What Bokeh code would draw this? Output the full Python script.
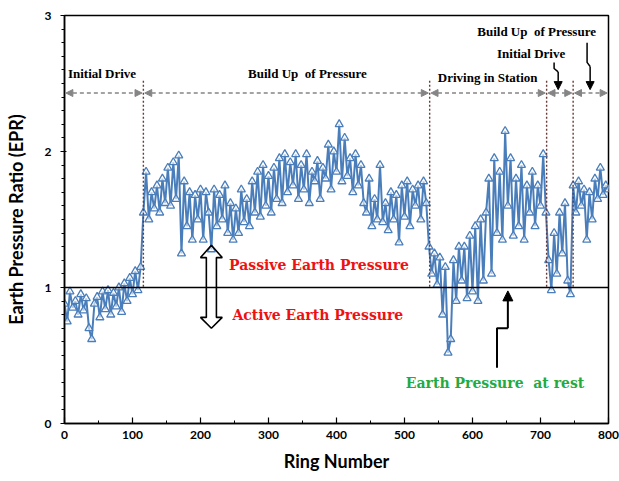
import numpy as np
from bokeh.plotting import figure
from bokeh.models import Label, Span, Arrow, NormalHead, FixedTicker, Range1d
from bokeh.embed import file_html
from bokeh.resources import INLINE

# ---- data (EPR read every 4 rings) ----
seg_initial = [0.88, 0.75, 0.97, 0.85, 0.90, 0.80, 0.95, 0.83, 0.92, 0.70, 0.62, 0.88, 0.93, 0.78,
               0.97, 0.84, 0.98, 0.80, 0.96, 0.86, 1.00, 0.82, 1.03, 0.90, 1.07, 0.95, 1.12, 0.98, 1.15]
seg_build_a = [1.55, 1.85, 1.50, 1.70, 1.58, 1.75, 1.55, 1.80, 1.62, 1.88, 1.60, 1.92, 1.65, 1.97,
               1.25, 1.78, 1.45, 1.70, 1.35, 1.68, 1.50, 1.72]
seg_build_b = [1.35, 1.70, 1.55, 1.28, 1.72, 1.45, 1.68, 1.50, 1.75, 1.40, 1.62, 1.35, 1.58, 1.40,
               1.72, 1.48, 1.65, 1.45, 1.78, 1.55, 1.85, 1.52, 1.90, 1.60]
seg_build_c = [1.82, 1.55, 1.88, 1.65, 1.95, 1.62, 1.98, 1.70, 1.92, 1.75, 1.98, 1.65, 1.90, 1.72,
               1.98, 1.62, 1.85, 1.78, 1.93, 1.65, 1.88, 1.80, 2.05, 1.72, 2.00, 1.85, 2.20, 1.78,
               2.10, 1.82, 1.95, 1.70, 1.98, 1.75, 1.90, 1.62]
seg_build_d = [1.55, 1.80, 1.45, 1.65, 1.50, 1.90, 1.48, 1.62, 1.42, 1.70, 1.50, 1.68, 1.33, 1.75,
               1.52, 1.78, 1.45, 1.72, 1.60, 1.75, 1.50, 1.78, 1.62]
seg_station_a = [1.30, 1.10, 1.25, 1.02, 1.22, 0.80, 1.15, 0.52, 0.62, 1.20, 0.90, 1.30, 1.05, 1.30,
                 0.92, 1.38, 0.97, 1.45, 0.90, 1.50, 1.05, 1.55]
seg_station_b = [1.80, 1.10, 1.95, 1.40, 1.85, 1.35, 2.15, 1.60, 1.95, 1.38, 1.80, 1.45, 1.90, 1.35,
                 1.75, 1.55, 1.85, 1.45, 1.75, 1.60, 1.98, 1.55]
seg_initial2 = [1.20, 0.98, 1.40, 1.10, 1.55, 1.25, 1.62, 1.05, 0.95]
seg_build2 = [1.75, 1.55, 1.78, 1.60, 1.72, 1.35, 1.70, 1.50, 1.80, 1.65, 1.88, 1.68, 1.75, 1.72]

epr = (seg_initial + seg_build_a + seg_build_b + seg_build_c + seg_build_d +
       seg_station_a + seg_station_b + seg_initial2 + seg_build2)
rings = list(range(0, 4 * len(epr), 4))

x_ticks = [0, 100, 200, 300, 400, 500, 600, 700, 800]
y_ticks = [0, 1, 2, 3]
phase_bounds = [0, 116, 537, 709, 748, 800]

BLUE = "#4A7EBB"
SERIF = "Liberation Serif"
SANS = "Lato"

p = figure(width=619, height=481, x_range=Range1d(0, 800), y_range=Range1d(0, 3),
           output_backend="svg", toolbar_location=None,
           min_border_left=64, min_border_right=11, min_border_top=15, min_border_bottom=58)
p.grid.visible = False
p.outline_line_color = "black"
p.outline_line_width = 1.5
p.background_fill_color = "white"
p.border_fill_color = "white"

# axes
p.xaxis.ticker = FixedTicker(ticks=x_ticks, minor_ticks=list(range(0, 801, 50)))
p.yaxis.ticker = FixedTicker(ticks=y_ticks, minor_ticks=[i / 10 for i in range(0, 31)])
for ax in (p.xaxis, p.yaxis):
    ax.axis_line_color = "black"
    ax.axis_line_width = 1.5
    ax.major_tick_line_color = "black"
    ax.minor_tick_line_color = "black"
    ax.major_tick_line_width = 1.2
    ax.major_label_text_font = SANS
    ax.major_label_text_font_style = "bold"
    ax.major_label_text_font_size = "12px"
    ax.major_label_text_color = "black"
    ax.axis_label_text_font = SANS
    ax.axis_label_text_font_style = "bold"
    ax.axis_label_text_color = "black"
p.xaxis.major_tick_in = 6
p.xaxis.major_tick_out = 0
p.xaxis.minor_tick_in = 3
p.xaxis.minor_tick_out = 0
p.xaxis.major_label_standoff = 7
p.xaxis.axis_label = "Ring Number"
p.xaxis.axis_label_text_font_size = "18px"
p.xaxis.axis_label_standoff = 8
p.yaxis.major_tick_in = 2
p.yaxis.major_tick_out = 4
p.yaxis.minor_tick_in = 0
p.yaxis.minor_tick_out = 3
p.yaxis.major_label_standoff = 9
p.yaxis.axis_label = "Earth Pressure Ratio (EPR)"
p.yaxis.axis_label_text_font_size = "18px"
p.yaxis.axis_label_standoff = 15

# data
p.line(rings, epr, line_color=BLUE, line_width=2)
p.scatter(rings, epr, marker="triangle", size=8, line_color=BLUE, line_width=1.3,
          fill_color="white", fill_alpha=0.6)

# EPR = 1 line
p.add_layout(Span(location=1.0, dimension="width", line_color="black", line_width=1.6))

# phase boundaries (dotted)
vx = phase_bounds[1:-1]
p.segment(x0=vx, y0=[2.52] * len(vx), x1=vx, y1=[1.0] * len(vx),
          line_color="#6A3A3A", line_width=1.4, line_dash="2 2")

# dashed double arrows
gray = "#858585"
for a, b in zip(phase_bounds[:-1], phase_bounds[1:]):
    p.add_layout(Arrow(x_start=a + 2, y_start=2.43, x_end=b - 2, y_end=2.43,
                       line_color=gray, line_width=1.5, line_dash="4 3",
                       start=NormalHead(size=7, fill_color=gray, line_color=gray),
                       end=NormalHead(size=7, fill_color=gray, line_color=gray)))

def lab(x, y, text, color="black", size="13px", font=SERIF):
    p.add_layout(Label(x=x, y=y, text=text, text_color=color, text_font=font,
                       text_font_style="bold", text_font_size=size,
                       text_align="left", text_baseline="middle"))

lab(5, 2.575, "Initial Drive")
lab(270, 2.575, "Build Up\u00a0 of Pressure")
lab(549, 2.545, "Driving in Station")
lab(607, 2.885, "Build Up\u00a0 of Pressure")
lab(636, 2.72, "Initial Drive")
lab(242, 1.165, "Passive Earth Pressure", color="#EE1111", size="14px", font="DejaVu Serif")
lab(247, 0.795, "Active Earth Pressure", color="#EE1111", size="14px", font="DejaVu Serif")
lab(502, 0.30, "Earth Pressure\u00a0 at rest", color="#22AA44", size="14px", font="DejaVu Serif")

# bent black arrows
def bent(xs, ys, lw=1.5, size=8):
    p.line(xs[:-1], ys[:-1], line_color="black", line_width=lw)
    p.add_layout(Arrow(x_start=xs[-2], y_start=ys[-2], x_end=xs[-1], y_end=ys[-1],
                       line_color="black", line_width=lw,
                       end=NormalHead(size=size, fill_color="black", line_color="black")))

bent([720, 720, 726, 726], [2.655, 2.61, 2.585, 2.455])
bent([768.5, 768.5, 773, 773], [2.80, 2.655, 2.625, 2.455])
bent([636, 636, 652, 652], [0.41, 0.70, 0.70, 0.975], lw=2, size=10)

# hollow double block arrow
cx, sw, hw = 216, 7.4, 16
yt, ybt, ybb, yb = 1.31, 1.22, 0.78, 0.70
bx = [cx, cx + hw, cx + sw, cx + sw, cx + hw, cx, cx - hw, cx - sw, cx - sw, cx - hw]
by = [yt, ybt, ybt, ybb, ybb, yb, ybb, ybb, ybt, ybt]
p.patch(bx, by, fill_color="white", fill_alpha=0.0, line_color="black", line_width=1.6)

open("out.html", "w").write(file_html(p, INLINE))
